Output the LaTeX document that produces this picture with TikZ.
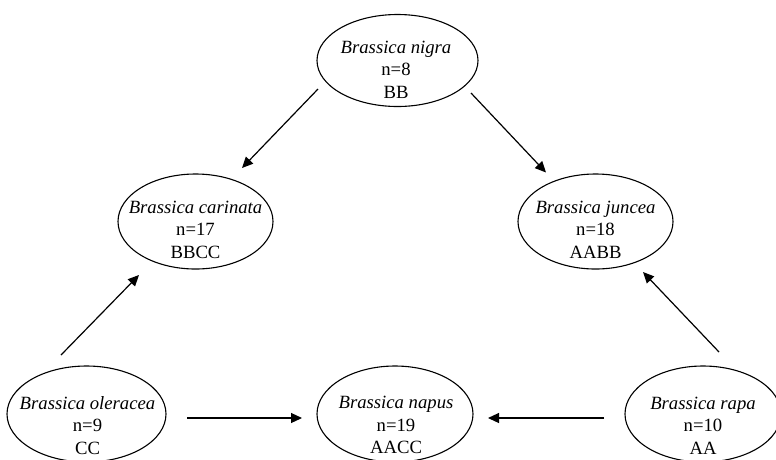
\documentclass[tikz,border=0pt]{standalone}
\usepackage{fontspec}
\setmainfont{Liberation Serif}
\usetikzlibrary{arrows.meta,shapes.geometric}
\begin{document}
\begin{tikzpicture}[x=1pt,y=-1pt,
  sp/.style={draw, ellipse, line width=1.1pt, inner sep=0pt, minimum width=157pt, minimum height=96pt},
  lbl/.style={align=center, inner sep=0pt, font=\fontsize{18.7}{22.5}\selectfont},
  arr/.style={line width=1.2pt, -{Triangle[length=11pt,width=10pt]}}]
\clip (0,0) rectangle (776,459);
% species ellipses
\node[sp, minimum width=161pt, minimum height=92pt] (nigra) at (397.5,60.5) {};
\node[lbl] (nigraT) at (396,69.8) {\textit{Brassica nigra}\\n=8\\BB};
\node[sp, minimum width=155pt, minimum height=95pt] (carinata) at (195.5,221.5) {};
\node[lbl] (carinataT) at (195.5,229.6) {\textit{Brassica carinata}\\n=17\\BBCC};
\node[sp, minimum width=155pt, minimum height=95pt] (juncea) at (595.5,221.5) {};
\node[lbl] (junceaT) at (595.5,229.6) {\textit{Brassica juncea}\\n=18\\AABB};
\node[sp, minimum width=159pt, minimum height=96pt] (oleracea) at (86.5,414) {};
\node[lbl] (oleraceaT) at (87.5,425.3) {\textit{Brassica oleracea}\\n=9\\CC};
\node[sp, minimum width=156pt, minimum height=96pt] (napus) at (395,414) {};
\node[lbl] (napusT) at (396,425.3) {\textit{Brassica napus}\\n=19\\AACC};
\node[sp, minimum width=156pt, minimum height=96pt] (rapa) at (703,414) {};
\node[lbl] (rapaT) at (703,425.3) {\textit{Brassica rapa}\\n=10\\AA};
% arrow end points
\coordinate (nc1) at (318,89);   \coordinate (nc2) at (242,168);
\coordinate (nj1) at (471,93);   \coordinate (nj2) at (546,172.5);
\coordinate (oc1) at (61,355);   \coordinate (oc2) at (139,275);
\coordinate (rj1) at (719,352);  \coordinate (rj2) at (643,272);
\coordinate (on1) at (187,418);  \coordinate (on2) at (302,418);
\coordinate (rn1) at (604,418);  \coordinate (rn2) at (488,418);
\draw[arr] (nc1) -- (nc2);
\draw[arr] (nj1) -- (nj2);
\draw[arr] (oc1) -- (oc2);
\draw[arr] (rj1) -- (rj2);
\draw[arr] (on1) -- (on2);
\draw[arr] (rn1) -- (rn2);
\end{tikzpicture}
\end{document}
